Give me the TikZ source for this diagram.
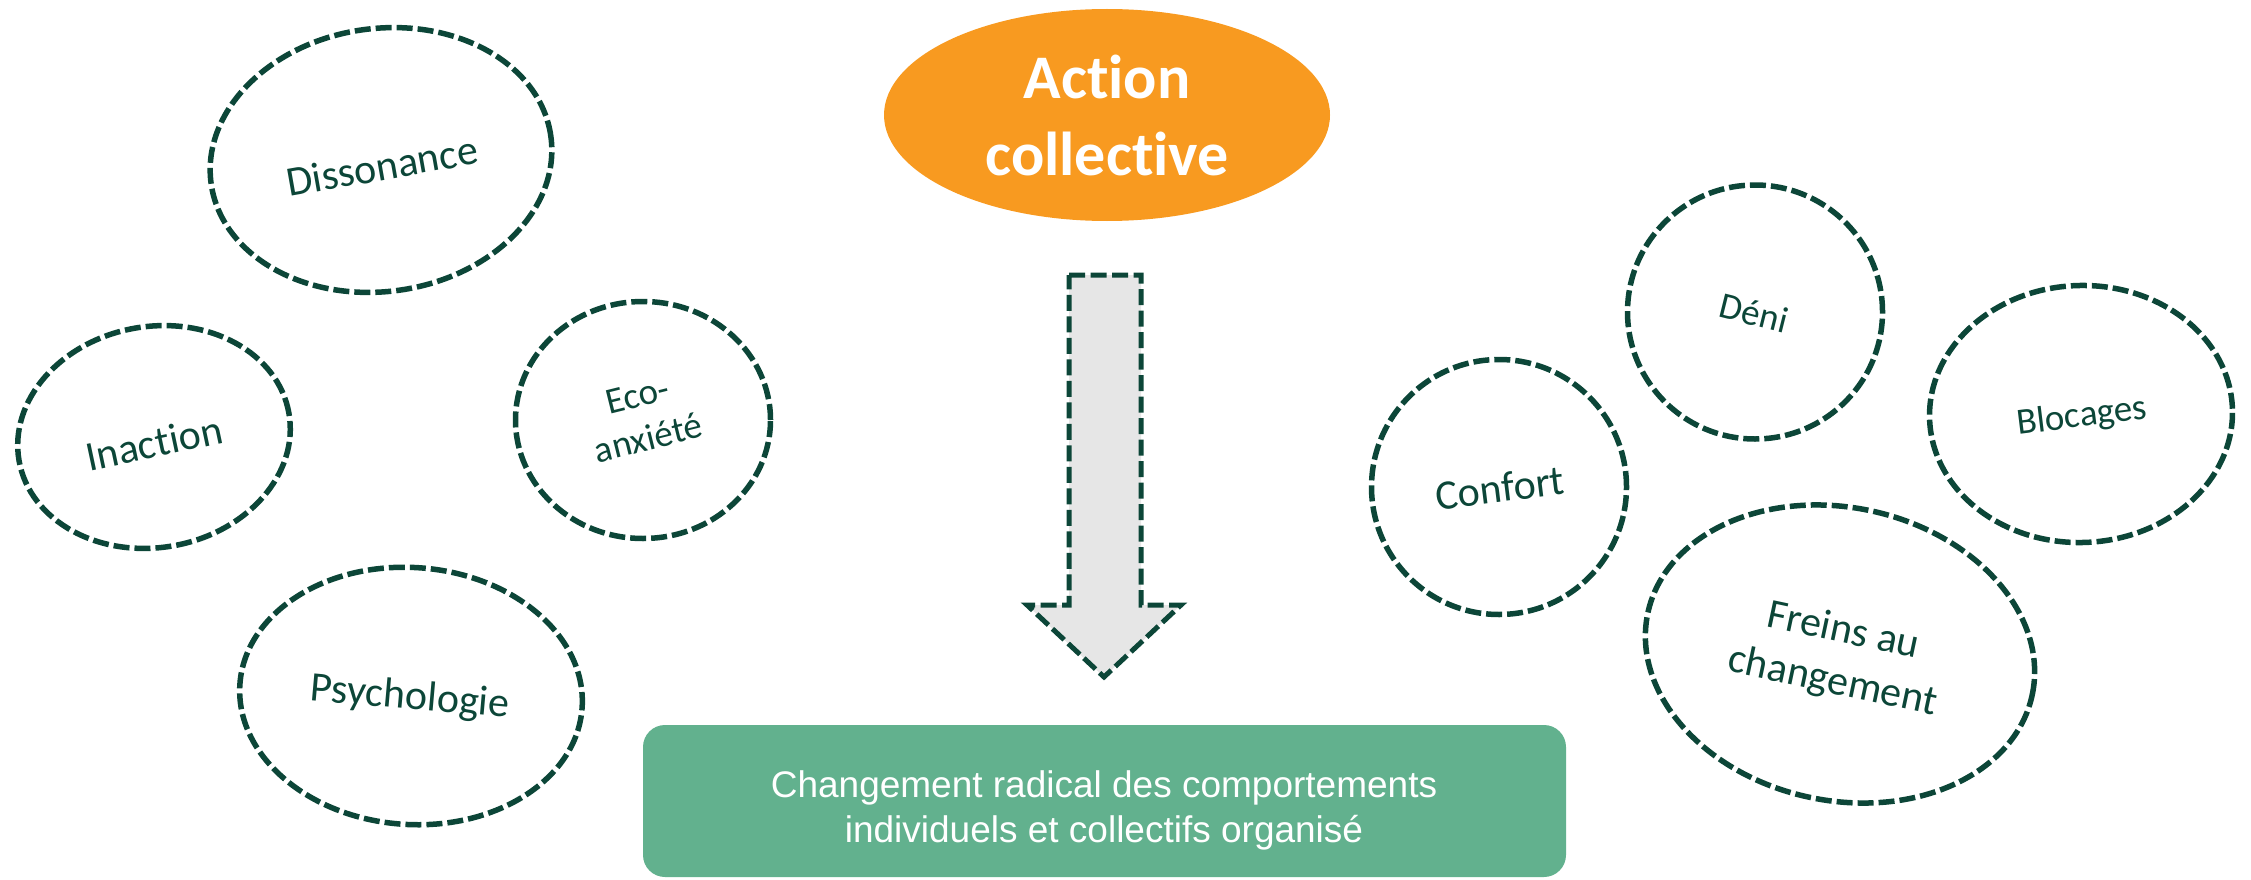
\documentclass[tikz,border=0pt]{standalone}
\usepackage{fontspec}
\setmainfont{Carlito}[Ligatures={NoCommon}]
\newfontfamily\arialfont{Liberation Sans}
\usetikzlibrary{shapes.geometric}
\definecolor{dkgreen}{RGB}{12,70,56}
\definecolor{orangeA}{RGB}{248,154,32}
\definecolor{boxgreen}{RGB}{98,177,142}
\definecolor{arrowgray}{RGB}{230,230,230}
\newcommand{\nlg}{\kern0pt}
\begin{document}
\begin{tikzpicture}[x=1pt,y=-1pt,
  bubble/.style={ellipse, draw=dkgreen, line width=5.5pt, dash pattern=on 16pt off 5pt, inner sep=0pt},
  blabel/.style={text=dkgreen, align=center, inner sep=0pt},
  bigtxt/.style={font=\fontsize{42}{52}\selectfont},
  smalltxt/.style={font=\fontsize{37}{44}\selectfont},
]
\useasboundingbox (0,0) rectangle (2251,880);

% left bubbles
\node[bubble, minimum width=343pt, minimum height=263pt, rotate=8] (diss) at (381,160) {};
\node[blabel, bigtxt, rotate=10] (dissT) at (382,166) {Dissonance};

\node[bubble, minimum width=274pt, minimum height=221pt, rotate=10] (inac) at (154,437) {};
\node[blabel, bigtxt, rotate=12] (inacT) at (154,443) {Inact\nlg ion};

\node[bubble, minimum width=255pt, minimum height=237pt] (eco) at (643,420) {};
\node[blabel, smalltxt, rotate=14] (ecoT) at (643,417) {Eco-\\anxiété};

\node[bubble, minimum width=343pt, minimum height=257pt, rotate=-4] (psy) at (411,696) {};
\node[blabel, bigtxt, rotate=-5] (psyT) at (410,698) {Psychologie};

% right bubbles
\node[bubble, minimum width=255pt, minimum height=254pt] (deni) at (1755,312) {};
\node[blabel, smalltxt, rotate=-14] (deniT) at (1754,313) {Déni};

\node[bubble, minimum width=255pt, minimum height=255pt] (conf) at (1499,487) {};
\node[blabel, bigtxt, rotate=7] (confT) at (1500,488) {Confort};

\node[bubble, minimum width=303pt, minimum height=257pt, rotate=2] (bloc) at (2081,414) {};
\node[blabel, smalltxt, rotate=7] (blocT) at (2082,417) {Blocages};

\node[bubble, minimum width=393pt, minimum height=293pt, rotate=-12] (frein) at (1840,654) {};
\node[blabel, bigtxt, rotate=-12] (freinT) at (1838,657) {Freins au\\changement};

% center
\node[ellipse, fill=orangeA, minimum width=446pt, minimum height=212pt, inner sep=0pt,
      text=white, font=\bfseries\fontsize{62}{77}\selectfont, align=center] (action) at (1107,115) {Act\nlg ion\\collect\nlg ive};

\draw[dkgreen, fill=arrowgray, line width=5pt, dash pattern=on 16pt off 5.5pt, miter limit=10]
  (1069,275) -- (1141,275) -- (1141,605) -- (1181,605) -- (1104,677) -- (1027,605) -- (1069,605) -- cycle;

\node[fill=boxgreen, rounded corners=22pt, minimum width=923pt, minimum height=152pt, inner sep=0pt] (result) at (1104.5,801) {};
\node[text=white, font=\arialfont\fontsize{37}{45}\selectfont, align=center, inner sep=0pt] (resultT) at (1104,810)
  {Changement radical des comportements\\individuels et collectifs organisé};
\end{tikzpicture}
\end{document}
